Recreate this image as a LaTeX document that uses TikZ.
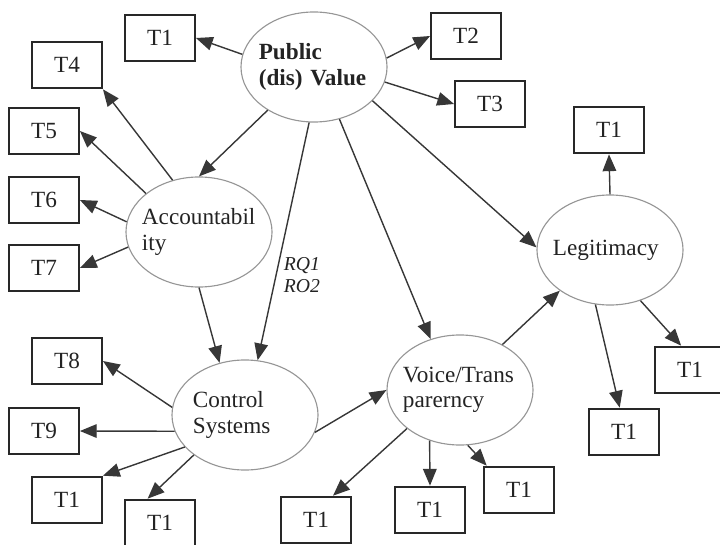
\documentclass[tikz,border=0pt]{standalone}
\usepackage{fontspec}
\setmainfont{Liberation Serif}
\usepackage{tikz}
\usetikzlibrary{shapes.geometric, arrows.meta}
\usepackage{xcolor}
\definecolor{linegray}{RGB}{55,55,55}
\definecolor{ovalgray}{RGB}{150,150,150}
\definecolor{boxgray}{RGB}{40,40,40}
\definecolor{textdark}{RGB}{35,35,35}

\begin{document}
\begin{tikzpicture}[
  x=0.025cm, y=-0.025cm,
  every node/.style={font=\fontsize{16.5}{18}\selectfont, text=textdark},
  construct/.style={ellipse, draw=ovalgray, line width=0.8pt, minimum width=3.65cm, minimum height=2.75cm, text width=2.85cm, align=left, inner xsep=-14pt, inner ysep=0pt},
  item/.style={rectangle, draw=boxgray, line width=1.3pt, minimum width=1.75cm, minimum height=1.17cm, inner sep=0pt},
  arr/.style={-{Triangle[length=0.42cm, width=0.34cm]}, draw=linegray, line width=1pt},
]
\useasboundingbox (0,0) rectangle (720,544);

%% Constructs
\node[construct, text width=2.76cm, font=\fontsize{16.5}{18}\selectfont\bfseries] (pv) at (314,67) {Public\\(dis) Value};
\node[construct] (acc)   at (199,232) {Accountabil\\ity};
\node[construct, text width=2.6cm] (cs) at (245,415) {Control\\Systems};
\node[construct] (voice) at (460,390) {Voice/Trans\\parerncy};
\node[construct] (legit) at (610,250) {Legitimacy};

%% Items
\node[item] (t1a) at (160,38)  {T1};
\node[item] (t2)  at (466,36)  {T2};
\node[item] (t3)  at (490,104) {T3};
\node[item] (t1b) at (609,130) {T1};
\node[item] (t4)  at (67,65)   {T4};
\node[item] (t5)  at (44,131)  {T5};
\node[item] (t6)  at (44,200)  {T6};
\node[item] (t7)  at (44,268)  {T7};
\node[item] (t8)  at (67,361)  {T8};
\node[item] (t9)  at (44,431)  {T9};
\node[item] (t1c) at (67,500)  {T1};
\node[item] (t1d) at (160,523) {T1};
\node[item] (t1e) at (316,520) {T1};
\node[item] (t1f) at (430,510) {T1};
\node[item] (t1g) at (519,490) {T1};
\node[item] (t1h) at (624,432) {T1};
\node[item] (t1i) at (690,370) {T1};

%% Research question label
\node[font=\fontsize{14}{16}\selectfont\itshape, align=left] (rq) at (302,275) {RQ1\\RO2};

%% Public (dis) Value
\draw[arr] (pv.170) -- (t1a.east);
\draw[arr] (pv.7)   -- (t2.west);
\draw[arr] (pv.348) -- (t3.west);
\draw[arr] (pv.223) -- (acc.north);
\draw[arr] (pv.265) -- (cs.77);
\draw[arr] (pv.296) -- (voice.120);
\draw[arr] (pv.330) -- (legit.178);

%% Accountability
\draw[arr] (acc.117) -- (t4.south east);
\draw[arr] (acc.144) -- (t5.east);
\draw[arr] (acc.172) -- (t6.east);
\draw[arr] (acc.192) -- (t7.east);
\draw[arr] (acc.south) -- (cs.116);

%% Control Systems
\draw[arr] (cs.174) -- (t8.east);
\draw[arr] (cs.193) -- (t9.east);
\draw[arr] (cs.208) -- (t1c.north east);
\draw[arr] (cs.218) -- (t1d.117);
\draw[arr] (cs.346) -- (voice.west);

%% Voice/Transparency
\draw[arr] (voice.216) -- (t1e.55);
\draw[arr] (voice.239) -- (t1f.north);
\draw[arr] (voice.278) -- (t1g.143);
\draw[arr] (voice.47)  -- (legit.219);

%% Legitimacy
\draw[arr] (legit.north) -- (t1b.south);
\draw[arr] (legit.255) -- (t1h.100);
\draw[arr] (legit.301) -- (t1i.110);

\end{tikzpicture}
\end{document}
